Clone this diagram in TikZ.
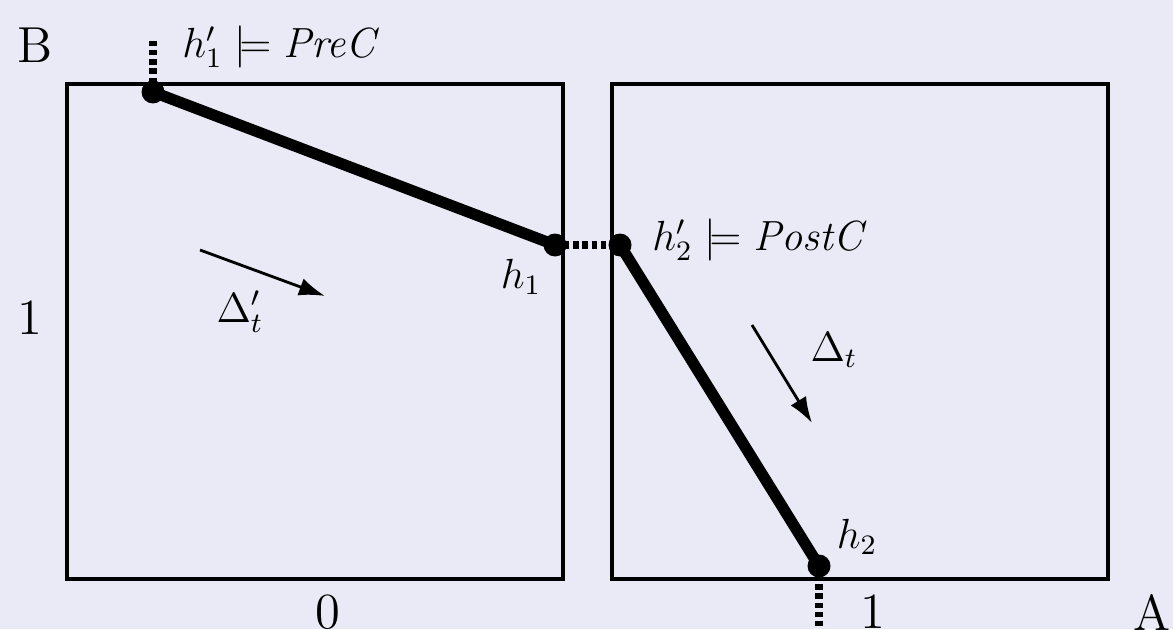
\documentclass[tikz,border=0pt]{standalone}
\usepackage{amsmath,amssymb}
\usetikzlibrary{arrows.meta}
\definecolor{bgcol}{RGB}{234,234,246}

\begin{document}
\begin{tikzpicture}[
    box/.style={draw, line width=1.2pt},
    dot/.style={circle, fill=black, inner sep=0pt, minimum size=0.23cm},
    trace/.style={line width=3.2pt},
    jump/.style={line width=2.2pt, dash pattern=on 1.5pt off 1.1pt},
    flow/.style={-{Latex[length=2.6mm,width=1.8mm]}, line width=0.8pt},
    axis/.style={font=\Large},
    lbl/.style={font=\large}
]
    % --- background and frame ---
    \fill[bgcol] (0,0) rectangle (11.73,6.29);
    \useasboundingbox (0,0) rectangle (11.73,6.29);

    % --- the two squares ---
    \draw[box] (0.67,0.50) rectangle (5.63,5.45);
    \draw[box] (6.12,0.50) rectangle (11.08,5.45);

    % --- axis labels ---
    \node[axis] (labB) at (0.35,5.84) {B};
    \node[axis] (labL) at (0.30,3.11) {1};
    \node[axis] (labZ) at (3.28,0.17) {0};
    \node[axis] (labO) at (8.73,0.17) {1};
    \node[axis] (labA) at (11.52,0.17) {A};

    % --- points ---
    \node[dot] (h1p) at (1.53,5.37) {};
    \node[dot] (h1) at (5.55,3.84) {};
    \node[dot] (h2p) at (6.20,3.84) {};
    \node[dot] (h2) at (8.19,0.63) {};
    \coordinate (top) at (1.53,5.91);
    \coordinate (bot) at (8.19,0);

    % --- traces ---
    \draw[trace] (h1p.center) -- (h1.center);
    \draw[trace] (h2p.center) -- (h2.center);
    \draw[jump] (h1p.center) -- (top);
    \draw[jump] (h1.center) -- (h2p.center);
    \draw[jump] (h2.center) -- (bot);

    % --- point labels ---
    \node[lbl, anchor=west] (preC) at (1.70,5.82) {$h'_1 \models \mathit{PreC}$};
    \node[lbl] (h1lab) at (5.21,3.52) {$h_1$};
    \node[lbl, anchor=west] (postC) at (6.40,3.89) {$h'_2 \models \mathit{PostC}$};
    \node[lbl] (h2lab) at (8.57,0.92) {$h_2$};

    % --- directions ---
    \coordinate (d1s) at (2.00,3.79);
    \coordinate (d1e) at (3.25,3.33);
    \coordinate (d2s) at (7.52,3.04);
    \coordinate (d2e) at (8.12,2.06);
    \draw[flow] (d1s) -- (d1e);
    \draw[flow] (d2s) -- (d2e);
    \node[lbl] (dtp) at (2.40,3.17) {$\Delta'_t$};
    \node[lbl] (dt) at (8.34,2.79) {$\Delta_t$};
\end{tikzpicture}
\end{document}
